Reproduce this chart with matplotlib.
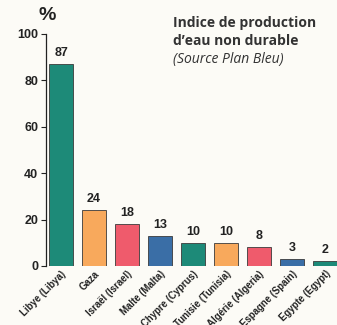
import matplotlib
matplotlib.use("Agg")
import matplotlib.pyplot as plt
from matplotlib.transforms import ScaledTranslation

categories = ["Libye (Libya)", "Gaza", "Israël (Israel)", "Malte (Malta)",
              "Chypre (Cyprus)", "Tunisie (Tunisia)", "Algérie (Algeria)",
              "Espagne (Spain)", "Egypte (Egypt)"]
values = [87, 24, 18, 13, 10, 10, 8, 3, 2]
colors = ["#1d8a78", "#f8a95c", "#ef5b6c", "#3a6ea6",
          "#1d8a78", "#f8a95c", "#ef5b6c", "#3a6ea6", "#1d8a78"]
yticks = [0, 20, 40, 60, 80, 100]

bg = "#fcfbf6"
ink = "#222222"
font = "Liberation Sans"

fig = plt.figure(figsize=(3.37, 3.25), dpi=100, facecolor=bg)
ax = fig.add_axes([46 / 337, 1 - 266 / 325, 291 / 337, 232 / 325], facecolor=bg)

x = list(range(len(values)))
ax.bar(x, values, width=0.73, color=colors, edgecolor="#3a3a3a", linewidth=0.6)
for xi, v in zip(x, values):
    ax.text(xi, v + 2.2, str(v), ha="center", va="bottom", fontsize=9,
            fontweight="bold", color=ink, family=font)

ax.set_xlim(-0.455, 8.36)
ax.set_ylim(0, 100)
ax.set_yticks(yticks)
ax.set_yticklabels([str(t) for t in yticks], fontsize=9, fontweight="bold",
                   color=ink, family=font)
ax.tick_params(axis="y", direction="out", length=3.5, width=0.8, colors=ink, pad=2)
ax.set_xticks(x)
labels = ax.set_xticklabels(categories, rotation=45, ha="right", rotation_mode="anchor",
                            fontsize=6.9, fontweight="bold", color=ink, family=font)
shift = ScaledTranslation(3 / 100, 0, fig.dpi_scale_trans)
for lab in labels:
    lab.set_transform(lab.get_transform() + shift)
ax.tick_params(axis="x", length=0, pad=2)
for s in ["top", "right", "bottom"]:
    ax.spines[s].set_visible(False)
ax.spines["left"].set_color(ink)
ax.spines["left"].set_linewidth(0.9)

fig.text(47 / 337, 1 - 16 / 325, "%", ha="center", va="center", fontsize=14,
         fontweight="bold", color=ink, family=font)
fig.text(173 / 337, 1 - 23 / 325, "Indice de production", ha="left", va="center",
         fontsize=10, fontweight="bold", color="#333333", family="Open Sans")
fig.text(173 / 337, 1 - 41 / 325, "d\u2019eau non durable", ha="left", va="center",
         fontsize=10, fontweight="bold", color="#333333", family="Open Sans")
fig.text(173 / 337, 1 - 59 / 325, "(Source Plan Bleu)", ha="left", va="center",
         fontsize=10, style="italic", color="#333333", family="Open Sans")

fig.savefig("out.png", dpi=100, facecolor=bg)
